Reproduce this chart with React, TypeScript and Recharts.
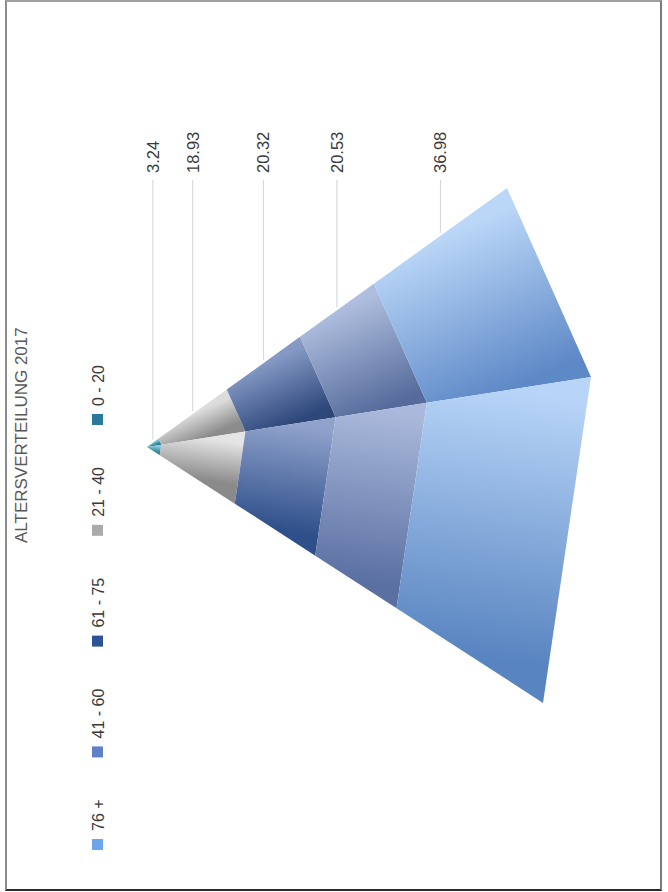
import { BarChart, Bar, XAxis, YAxis } from 'recharts';

// age groups in stacking order, from the apex of the pyramid to its base
const AGE_GROUPS = ['0 - 20', '21 - 40', '61 - 75', '41 - 60', '76 +'];
const SHARES = [3.24, 18.93, 20.32, 20.53, 36.98];
const TITLE = 'ALTERSVERTEILUNG 2017';

const SWATCH_COLORS = ['#29799b', '#ababab', '#2c5396', '#5d80c6', '#6ea6ec'];
// light -> dark shade for the upper and lower visible faces of each slice
const FACE_SHADES = [
  { upper: ['#7cc3d3', '#2d7d93'], lower: ['#8ccad8', '#3a8aa0'] },
  { upper: ['#dcdcdc', '#8c8c8c'], lower: ['#e4e4e4', '#8a8a8a'] },
  { upper: ['#8599c4', '#2d477b'], lower: ['#8fa2cb', '#2f4f8a'] },
  { upper: ['#afbede', '#566b9c'], lower: ['#aab9db', '#5a6fa2'] },
  { upper: ['#bbd7f8', '#5e89c7'], lower: ['#b8d5f8', '#5884c0'] },
];

const WIDTH = 668;
const HEIGHT = 892;
const MARGIN = { top: 100, right: 77, bottom: 98, left: 147 };
const PLOT_W = WIDTH - MARGIN.left - MARGIN.right;

// pyramid edges, as offsets from the apex at full height
const EDGE_TOP = [360, -259];
const EDGE_RIDGE = [PLOT_W, -70];
const EDGE_BOTTOM = [396, 256];

const FONT = '"Liberation Sans", Arial, Helvetica, sans-serif';
const LABEL_START_Y = 173;
const LEADER_TOP_Y = 180;

const data = [
  AGE_GROUPS.reduce<Record<string, number | string>>(
    (row, _g, i) => {
      row[`s${i}`] = SHARES[i];
      return row;
    },
    { name: '2017' }
  ),
];

// rough Arial advance widths, used to lay out the rotated legend
const charWidth = (c: string) => {
  if (/[0-9]/.test(c)) return 0.556;
  if (c === ' ') return 0.278;
  if (c === '-') return 0.333;
  if (c === '+') return 0.584;
  return 0.6;
};
const textWidth = (s: string, size: number) =>
  s.split('').reduce((w, c) => w + charWidth(c), 0) * size;

const poly = (pts: number[][]) => pts.map((p) => `${p[0]},${p[1]}`).join(' ');

const makeSlice = (i: number) => (props: any) => {
  const { x, y, width, height } = props;
  const ax = MARGIN.left;
  const ay = y + height / 2;
  const t0 = (x - ax) / PLOT_W;
  const t1 = (x + width - ax) / PLOT_W;
  const tm = (t0 + t1) / 2;
  const at = (e: number[], t: number) => [ax + e[0] * t, ay + e[1] * t];

  const upper = [at(EDGE_TOP, t0), at(EDGE_TOP, t1), at(EDGE_RIDGE, t1), at(EDGE_RIDGE, t0)];
  const lower = [at(EDGE_RIDGE, t0), at(EDGE_RIDGE, t1), at(EDGE_BOTTOM, t1), at(EDGE_BOTTOM, t0)];
  const topMid = at(EDGE_TOP, tm);
  const ridgeMid = at(EDGE_RIDGE, tm);
  const bottomMid = at(EDGE_BOTTOM, tm);
  const shade = FACE_SHADES[i];
  const textX = topMid[0] + 6;

  return (
    <g>
      <defs>
        <linearGradient id={`up-${i}`} gradientUnits="userSpaceOnUse"
          x1={topMid[0]} y1={topMid[1]} x2={ridgeMid[0]} y2={ridgeMid[1]}>
          <stop offset="0%" stopColor={shade.upper[0]} />
          <stop offset="100%" stopColor={shade.upper[1]} />
        </linearGradient>
        <linearGradient id={`low-${i}`} gradientUnits="userSpaceOnUse"
          x1={ridgeMid[0]} y1={ridgeMid[1]} x2={bottomMid[0]} y2={bottomMid[1]}>
          <stop offset="0%" stopColor={shade.lower[0]} />
          <stop offset="100%" stopColor={shade.lower[1]} />
        </linearGradient>
      </defs>
      <polygon points={poly(upper)} fill={`url(#up-${i})`} />
      <polygon points={poly(lower)} fill={`url(#low-${i})`} />
      <line x1={topMid[0]} y1={LEADER_TOP_Y} x2={topMid[0]} y2={topMid[1] - 3}
        stroke="#d4d4d4" strokeWidth={1} />
      <text x={textX} y={LABEL_START_Y} transform={`rotate(-90 ${textX} ${LABEL_START_Y})`}
        fontFamily={FONT} fontSize={16.5} fill="#3a3a3a">
        {SHARES[i].toFixed(2)}
      </text>
    </g>
  );
};

function RotatedLegend() {
  const size = 11;
  const items: JSX.Element[] = [];
  let bottom = 850;
  // legend reads upward, starting with the base of the pyramid
  for (let k = AGE_GROUPS.length - 1; k >= 0; k--) {
    const label = AGE_GROUPS[k];
    const sqTop = bottom - size;
    const textStart = sqTop - 8;
    items.push(
      <g key={label}>
        <rect x={92} y={sqTop} width={size} height={size} fill={SWATCH_COLORS[k]} />
        <text x={104} y={textStart} transform={`rotate(-90 104 ${textStart})`}
          fontFamily={FONT} fontSize={16} fill="#3a3a3a">
          {label}
        </text>
      </g>
    );
    bottom = textStart - textWidth(label, 16) - 42;
  }
  return <g>{items}</g>;
}

export default function App() {
  return (
    <div style={{ position: 'absolute', left: 0, top: 0, width: WIDTH, height: HEIGHT, background: '#fff' }}>
      <div
        style={{
          position: 'absolute',
          left: 5,
          top: 0,
          width: 653,
          height: 887,
          borderLeft: '2px solid #8c8c8c',
          borderTop: '2px solid #a0a0a0',
          borderRight: '2px solid #7a7a7a',
          borderBottom: '2px solid #2a2a2a',
        }}
      />
      <div style={{ position: 'absolute', left: 0, top: 0 }}>
        <BarChart width={WIDTH} height={HEIGHT} data={data} layout="vertical" margin={MARGIN}>
          <XAxis type="number" domain={[0, 100]} hide />
          <YAxis type="category" dataKey="name" hide />
          {AGE_GROUPS.map((group, i) => (
            <Bar
              key={group}
              dataKey={`s${i}`}
              name={group}
              stackId="pyramid"
              fill={SWATCH_COLORS[i]}
              shape={makeSlice(i)}
              isAnimationActive={false}
            />
          ))}
          <text x={27} y={543} transform="rotate(-90 27 543)" fontFamily={FONT}
            fontSize={17} fill="#595959">
            {TITLE}
          </text>
          <RotatedLegend />
        </BarChart>
      </div>
    </div>
  );
}
